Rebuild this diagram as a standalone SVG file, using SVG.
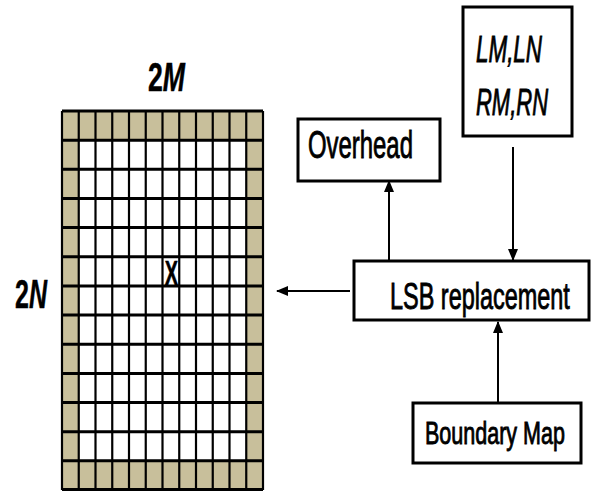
<svg xmlns="http://www.w3.org/2000/svg" width="591" height="491" viewBox="0 0 591 491">
<defs>
<style>
.box{fill:#fff;stroke:#000;stroke-width:3}
.lbl{font-family:"Liberation Sans",Arial,sans-serif;fill:#000;stroke:#000;stroke-width:0.9}
.bold{stroke-width:0.5;font-weight:bold}
.tan{fill:#C8BF9B}
.grid{stroke:#000;fill:none}
.conn{stroke:#000;stroke-width:2;fill:none}
</style>
<marker id="ah" markerUnits="userSpaceOnUse" markerWidth="12" markerHeight="10" refX="11" refY="5" orient="auto">
<path d="M0,0 L12,5 L0,10 Z" fill="#000"/>
</marker>
</defs>
<rect width="591" height="491" fill="#fff"/>
<g id="grid">
<rect x="62" y="111" width="201" height="379" fill="#fff"/>
<rect class="tan" x="62" y="111" width="201" height="29.15"/>
<rect class="tan" x="62" y="460.8" width="201" height="29.2"/>
<rect class="tan" x="62" y="111" width="16.75" height="379"/>
<rect class="tan" x="246.25" y="111" width="16.75" height="379"/>
<path class="grid" stroke-width="2.2" d="M62,111V490M78.75,111V490M95.5,111V490M112.25,111V490M129,111V490M145.75,111V490M162.5,111V490M179.25,111V490M196,111V490M212.75,111V490M229.5,111V490M246.25,111V490M263,111V490"/>
<path class="grid" stroke-width="3" d="M62,111H263M62,140.15H263M62,169.3H263M62,198.46H263M62,227.6H263M62,256.77H263M62,285.9H263M62,315.08H263M62,344.2H263M62,373.4H263M62,402.5H263M62,431.7H263M62,460.8H263M62,489.5H263"/>
<text class="lbl bold" transform="translate(171.5,285) scale(0.57,1)" font-size="35" text-anchor="middle">X</text>
</g>
<g id="label-2M">
<text class="lbl bold" transform="translate(148,91) scale(0.65,1)" font-size="41">2<tspan font-style="italic">M</tspan></text>
</g>
<g id="label-2N">
<text class="lbl bold" transform="translate(15,308) scale(0.61,1)" font-size="41">2<tspan font-style="italic">N</tspan></text>
</g>
<g id="node-params">
<rect class="box" x="463" y="7" width="109" height="129"/>
<text class="lbl" transform="translate(476,62) scale(0.606,1)" font-size="37" font-style="italic">LM,LN</text>
<text class="lbl" transform="translate(476,115) scale(0.594,1)" font-size="37" font-style="italic">RM,RN</text>
</g>
<g id="node-overhead">
<rect class="box" x="298" y="119" width="142" height="62"/>
<text class="lbl" transform="translate(308,158) scale(0.629,1)" font-size="38">Overhead</text>
</g>
<g id="node-lsb">
<rect class="box" x="354" y="261" width="235" height="59"/>
<text class="lbl" transform="translate(390,309) scale(0.634,1)" font-size="37">LSB replacement</text>
</g>
<g id="node-boundary">
<rect class="box" x="413" y="403" width="168" height="60"/>
<text class="lbl" transform="translate(425,444) scale(0.694,1)" font-size="31">Boundary Map</text>
</g>
<g id="connectors">
<line class="conn" x1="350" y1="291" x2="277" y2="291" marker-end="url(#ah)"/>
<line class="conn" x1="389" y1="260" x2="389" y2="181" marker-end="url(#ah)"/>
<line class="conn" x1="513" y1="147" x2="513" y2="260" marker-end="url(#ah)"/>
<line class="conn" x1="498" y1="403" x2="498" y2="322" marker-end="url(#ah)"/>
</g>
</svg>
